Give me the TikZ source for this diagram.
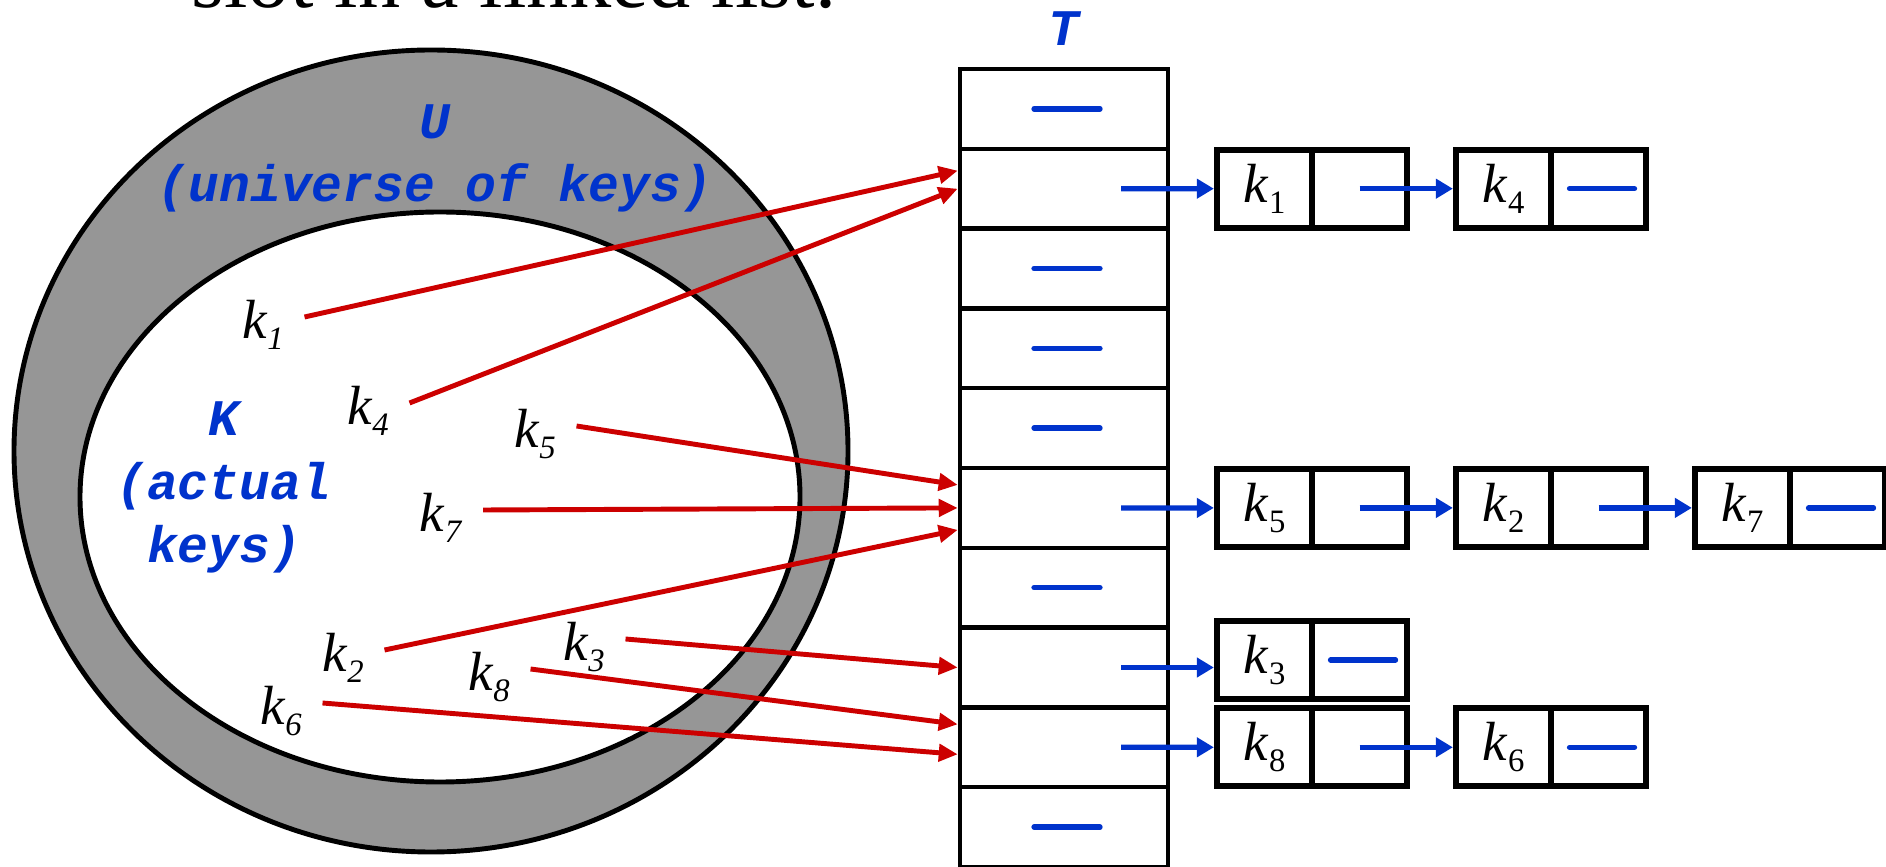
\documentclass[tikz,border=0pt]{standalone}
\usepackage{fontspec}
\setmainfont{Liberation Serif}
\newfontfamily\courierfam{Liberation Mono}
\usetikzlibrary{arrows.meta}
\definecolor{keyblue}{RGB}{0,51,204}
\definecolor{hashred}{RGB}{204,0,0}
\definecolor{setgray}{RGB}{150,150,150}
\newcommand{\setfont}{\courierfam\bfseries\itshape\fontsize{14.6}{18.2}\selectfont}
\newcommand{\keyfont}{\fontsize{15.7}{18}\selectfont}
\newcommand{\subfont}{\fontsize{9.3}{10}\selectfont}
% k with italic index (inside K) and upright index (in the chains)
\newcommand{\keyit}[1]{\textit{k}\raisebox{-0.2em}{\subfont\textit{#1}}}
\newcommand{\keyup}[1]{\textit{k}\raisebox{-0.2em}{\subfont #1}}
\tikzset{
    slotbox/.style={draw, line width=1.3pt, minimum width=2.08cm, minimum height=0.798cm, inner sep=0pt},
    keycell/.style={draw, line width=1.8pt, minimum width=0.95cm, minimum height=0.78cm, inner sep=0pt, font=\keyfont},
    keylabel/.style={font=\keyfont, inner xsep=0.2cm, inner ysep=0pt},
    setlabel/.style={text=keyblue, font=\setfont, align=center, inner sep=0pt},
    nullmark/.style={keyblue, line width=1.5pt, line cap=round},
    ptrarrow/.style={keyblue, line width=1.5pt, -{Triangle[length=0.17cm, width=0.19cm]}},
    hasharrow/.style={hashred, line width=1.4pt, -{Triangle[length=0.19cm, width=0.17cm]}},
}
\newcommand{\listelem}[4]{%
    \node[keycell] (#1) at (#2,#3) {\keyup{#4}};
    \node[keycell] (#1p) at ({#2+0.95},#3) {};
}

\begin{document}
\begin{tikzpicture}
    \useasboundingbox (0,0) rectangle (18.86,-8.67);
    % --- heading of the slide, cut at the top ---
    \node[font=\fontsize{24}{28}\selectfont, anchor=base west, inner sep=0pt] (heading) at (1.91,-0.08) {slot in a linked list.};
    % --- universe U and actual keys K ---
    \filldraw[fill=setgray, line width=1.4pt] (4.31,-4.51) ellipse [x radius=4.17, y radius=4.01];
    \filldraw[fill=white, line width=1.4pt] (4.40,-4.97) ellipse [x radius=3.60, y radius=2.85];
    \node[setlabel, anchor=base] (U) at (4.35,-2.02) {U\\(universe of keys)};
    \node[setlabel, anchor=base] (K) at (2.24,-5.63) {K\\(actual\\keys)};
    \foreach \n/\x/\y in {1/2.63/-3.25, 4/3.68/-4.11, 5/5.35/-4.34, 7/4.41/-5.18,
                          2/3.43/-6.58, 3/5.84/-6.47, 8/4.89/-6.77, 6/2.81/-7.11}
        \node[keylabel] (k\n) at (\x,\y) {\keyit{\n}};
    % --- hash table T ---
    \node[setlabel, anchor=base] (T) at (10.64,-0.46) {T};
    \foreach \i in {0,...,9}
        \node[slotbox] (t\i) at (10.64,{-0.69-0.798*(\i+0.5)}) {};
    \foreach \i in {0,2,3,4,6,9}
        \draw[nullmark] ([xshift=-0.3cm]t\i.center) -- ([xshift=0.36cm]t\i.center);
    % --- chains ---
    \listelem{e1}{12.645}{-1.887}{1}
    \listelem{e4}{15.035}{-1.887}{4}
    \listelem{e5}{12.645}{-5.079}{5}
    \listelem{e2}{15.035}{-5.079}{2}
    \listelem{e7}{17.425}{-5.079}{7}
    \listelem{e3}{12.645}{-6.60}{3}
    \listelem{e8}{12.645}{-7.473}{8}
    \listelem{e6}{15.035}{-7.473}{6}
    \foreach \e in {e4,e7,e3,e6}
        \draw[nullmark] ([xshift=-0.29cm]\e p.center) -- ([xshift=0.36cm]\e p.center);
    \draw[ptrarrow] ([xshift=0.57cm]t1.center) -- (e1.west);
    \draw[ptrarrow] ([xshift=0.57cm]t5.center) -- (e5.west);
    \draw[ptrarrow] ([xshift=0.57cm]t7.center) -- (t7.center -| e3.west);
    \draw[ptrarrow] ([xshift=0.57cm]t8.center) -- (e8.west);
    \draw[ptrarrow] (e1p.center) -- (e4.west);
    \draw[ptrarrow] (e5p.center) -- (e2.west);
    \draw[ptrarrow] (e2p.center) -- (e7.west);
    \draw[ptrarrow] (e8p.center) -- (e6.west);
    % --- keys hashed into slots ---
    \foreach \n/\s/\dy in {1/1/0.18, 4/1/0, 5/5/0.23, 7/5/0, 2/5/-0.22, 3/7/0, 8/8/0.23, 6/8/-0.07}
        \draw[hasharrow] ([yshift=0.08cm]k\n.east) -- ([yshift=\dy cm]t\s.west);
\end{tikzpicture}
\end{document}
